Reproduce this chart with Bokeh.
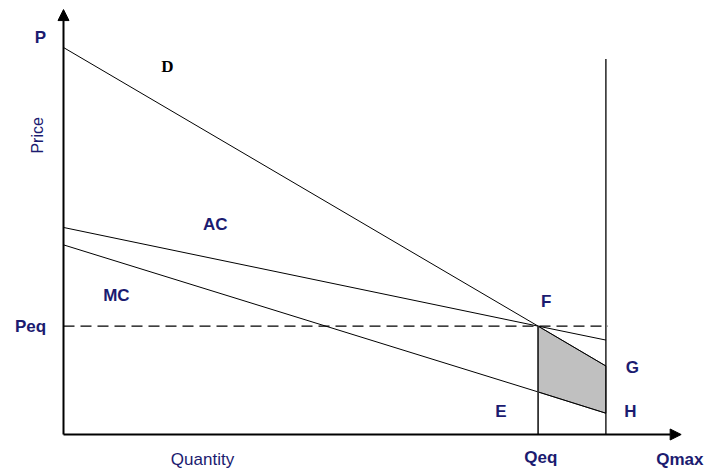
from bokeh.plotting import figure
from bokeh.models import Range1d, Arrow, NormalHead, Label
from bokeh.embed import file_html
from bokeh.resources import INLINE

# ---- data (arbitrary units) ----
Q = [0.0, 7.0, 8.0]            # quantity points: origin, Qeq, Qmax
D = [10.0, 2.8, 1.77]          # demand curve
AC = [5.35, 2.8, 2.44]         # average cost
MC = [4.9, 1.1, 0.55]          # marginal cost
Peq = 2.8
Qeq = 7.0
Qmax = 8.0
Qmax_top = 9.7
x_axis_end = 9.11
y_axis_end = 10.98

NAVY = "#1b1b70"

W, H = 704, 470
XS, YS = 67.8, 38.7     # pixels per data unit
OX, OY = 63, 434        # origin position in canvas pixels
p = figure(width=W, height=H, output_backend="svg", toolbar_location=None,
           x_range=Range1d(-OX / XS, (W - OX) / XS),
           y_range=Range1d(-(H - OY) / YS, OY / YS),
           min_border=0, min_border_left=0, min_border_right=0,
           min_border_top=0, min_border_bottom=0)
p.axis.visible = False
p.grid.visible = False
p.outline_line_color = None
p.background_fill_color = "white"
p.border_fill_color = "white"

# shaded region F-G-H-(Qeq on MC)
p.patch([Q[1], Q[2], Q[2], Q[1]], [D[1], D[2], MC[2], MC[1]],
        fill_color="#c0c0c0", line_color="#404040", line_width=1)

# curves
p.line(Q, D, line_color="black", line_width=1)
p.line(Q, AC, line_color="black", line_width=1)
p.line(Q, MC, line_color="black", line_width=1)

# dashed Peq line
p.line([0, Qmax + 0.03], [Peq, Peq], line_color="black", line_width=1.3, line_dash="11 6")

# verticals
p.line([Qeq, Qeq], [0, Peq], line_color="#333333", line_width=1.8)
p.line([Qmax, Qmax], [0, Qmax_top], line_color="black", line_width=1.3)

# axes with arrows
p.add_layout(Arrow(x_start=0, y_start=0, x_end=x_axis_end, y_end=0,
                   line_color="black", line_width=2,
                   end=NormalHead(size=11, fill_color="black", line_color="black")))
p.add_layout(Arrow(x_start=0, y_start=0, x_end=0, y_end=y_axis_end,
                   line_color="black", line_width=2,
                   end=NormalHead(size=11, fill_color="black", line_color="black")))

def lab(x, y, t, bold=True, color=NAVY, size="17px", font="Liberation Sans", angle=0):
    p.add_layout(Label(x=x, y=y, text=t, text_font=font, text_font_size=size,
                       text_font_style="bold" if bold else "normal",
                       text_color=color, text_align="center", text_baseline="middle",
                       angle=angle))

lab(-0.339, 10.26, "P")
lab(1.534, 9.51, "D", color="black", font="Liberation Serif")
lab(-0.383, 7.73, "Price", bold=False, size="16px", angle=1.5708)
lab(2.24, 5.43, "AC")
lab(0.78, 3.59, "MC")
lab(-0.487, Peq, "Peq")
lab(7.12, 3.44, "F")
lab(8.39, 1.73, "G")
lab(8.36, 0.59, "H")
lab(6.45, 0.59, "E")
lab(7.04, -0.59, "Qeq")
lab(9.09, -0.65, "Qmax")
lab(2.05, -0.65, "Quantity", bold=False, size="17px")

open("out.html", "w").write(file_html(p, INLINE))
